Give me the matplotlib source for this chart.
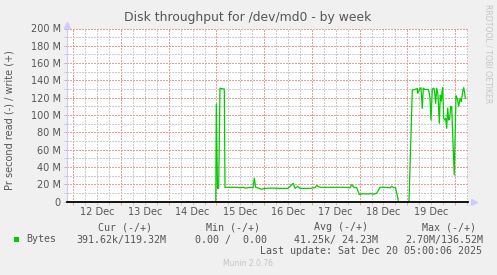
import numpy as np
import matplotlib
matplotlib.use("Agg")
import matplotlib.pyplot as plt
from matplotlib.ticker import MultipleLocator, FuncFormatter
import matplotlib.transforms as mtransforms

# write (+) throughput, MB/s, x = days since 12 Dec 00:00 (nan = no data)
days = [2.985, 2.996, 3.021, 3.046, 3.073, 3.164, 3.178, 3.451, 3.493, 3.556,
        3.618, 3.702, 3.765, 3.792, 3.822, 3.870, 3.933, 4.017, 4.164, 4.331,
        4.499, 4.610, 4.646, 4.702, 4.751, 4.855, 4.960, 5.065, 5.101, 5.170,
        5.442, 5.694, 5.799, 5.834, 5.883, 5.939, 5.994, 6.071, 6.149, 6.218,
        6.302, 6.358, 6.428, 6.532, 6.637, 6.673, 6.721, 6.753, 6.811, 6.900,
        7.015, 7.036, 7.105, 7.161, 7.209, 7.218, 7.266, 7.287, 7.314, 7.335,
        7.371, 7.440, 7.461, 7.476, 7.497, 7.524, 7.545, 7.566, 7.595, 7.616,
        7.644, 7.671, 7.692, 7.713, 7.727, 7.742, 7.763, 7.784, 7.805, 7.826,
        7.847, 7.868, 7.889, 7.910, 7.931, 7.952, 7.985, 8.021, 8.048, 8.078,
        8.105, 8.132, 8.161, 8.182, 8.203, 8.216]
write_mb = [0, 112.7, 15.2, 15.2, 130.9, 130.0, 16.4, 16.4, 15.8, 16.4,
            15.5, 16.4, 15.8, 26.8, 16.4, 15.8, 14.1, 15.2, 15.5, 15.2,
            15.2, 21.0, 15.2, 17.5, 15.2, 15.2, 15.2, 16.0, 18.5, 16.4,
            16.4, 16.4, 15.8, 19.5, 16.4, 16.0, 8.0, 9.0, 8.7, 9.0,
            8.5, 9.5, 16.5, 16.4, 15.8, 17.5, 16.0, 16.0, 1.5, np.nan,
            0, 0.5, 128.9, 129.5, 130.6, 125.0, 130.6, 131.5, 107.7, 131.0,
            129.5, 129.5, 125.0, 119.0, 94.2, 129.5, 131.0, 130.0, 113.5, 131.0,
            123.0, 90.4, 123.0, 116.0, 127.0, 131.5, 96.2, 94.2, 96.2, 84.6,
            108.0, 94.2, 96.2, 110.0, 109.0, 76.9, 30.6, 122.3, 119.3, 110.0,
            119.3, 115.5, 127.0, 131.6, 125.0, 119.3]

day_labels = ["12 Dec", "13 Dec", "14 Dec", "15 Dec", "16 Dec", "17 Dec", "18 Dec", "19 Dec"]

legend_head = ["Cur (-/+)", "Min (-/+)", "Avg (-/+)", "Max (-/+)"]
legend_vals = ["391.62k/119.32M", "0.00 /  0.00", "41.25k/ 24.23M", "2.70M/136.52M"]

W, H = 497, 275
bg = "#F0F0F0"
txt = "#555555"

fig = plt.figure(figsize=(W / 100, H / 100), dpi=100, facecolor=bg)
ax = fig.add_axes([67 / W, 1 - 201.5 / H, (467.5 - 67) / W, (201.5 - 28.5) / H])
ax.set_facecolor("white")

ax.set_xlim(-0.134, 8.262)
ax.set_ylim(0, 200)

ax.xaxis.set_major_locator(MultipleLocator(1))
ax.xaxis.set_minor_locator(MultipleLocator(0.25))
ax.yaxis.set_major_locator(MultipleLocator(20))
ax.yaxis.set_minor_locator(MultipleLocator(10))
ax.yaxis.set_major_formatter(FuncFormatter(lambda v, p: "0" if v == 0 else f"{v:.0f} M"))
ax.xaxis.set_major_formatter(FuncFormatter(lambda v, p: ""))

ax.grid(which="minor", color="#CCCCCC", linestyle=(0, (1, 1)), linewidth=1.0, antialiased=False)
ax.grid(which="major", color="#F29A9A", linestyle=(0, (1, 1)), linewidth=1.0, antialiased=False)
ax.set_axisbelow(True)

ax.tick_params(which="both", direction="out", length=2.5, width=0.7, labelsize=7, labelcolor=txt, pad=2)
ax.tick_params(which="major", color="#F0A0A0")
ax.tick_params(which="minor", color="#C8C8C8")

for s in ["top", "right", "bottom"]:
    ax.spines[s].set_visible(False)
ax.spines["left"].set_color("#CCCCEE")
ax.spines["left"].set_linewidth(0.8)

ax.plot(days, write_mb, color="#00CC00", linewidth=0.9, zorder=3)
ax.axhline(0, color="black", linewidth=1.3, zorder=4, clip_on=False)

# arrows at axis ends
ax.plot([0], [1.02], marker="^", markersize=4, color="#CCCCFF", transform=ax.transAxes, clip_on=False)
ax.plot([1.015], [0], marker=">", markersize=4, color="#CCCCFF", transform=ax.transAxes, clip_on=False)

# day labels centred at noon
tr = mtransforms.blended_transform_factory(ax.transData, fig.transFigure)
for i, lab in enumerate(day_labels):
    ax.text(i + 0.5, 1 - 212 / H, lab, transform=tr, ha="center", va="center", fontsize=7, color=txt)

fig.text(248 / W, 1 - 17 / H, "Disk throughput for /dev/md0 - by week", ha="center", va="center",
         fontsize=8.9, color=txt)
fig.text(10 / W, 1 - 120 / H, "Pr second read (-) / write (+)", rotation=90, ha="center", va="center",
         fontsize=7, color=txt)
fig.text(488 / W, 1 - 54 / H, "RRDTOOL / TOBI OETIKER", rotation=270, ha="center", va="center",
         fontsize=5.6, color="#C4C4C4")

# legend block
mono = "DejaVu Sans Mono"
fig.patches.append(plt.Rectangle((14 / W, 1 - 242 / H), 5 / W, 5 / H, transform=fig.transFigure,
                                 facecolor="#00CC00", edgecolor="none"))
fig.text(26 / W, 1 - 239.5 / H, "Bytes", family=mono, fontsize=7.2, color=txt, va="center")
head_right = [151.7, 260, 368.3, 476]
val_right = [166.7, 266.7, 377.7, 483.3]
for h, v, hr, vr in zip(legend_head, legend_vals, head_right, val_right):
    fig.text(hr / W, 1 - 227.5 / H, h, family=mono, fontsize=7.2, color=txt, ha="right", va="center")
    fig.text(vr / W, 1 - 239.5 / H, v, family=mono, fontsize=7.2, color=txt, ha="right", va="center")
fig.text(482.5 / W, 1 - 251 / H, "Last update: Sat Dec 20 05:00:06 2025", family=mono, fontsize=7.2,
         color=txt, ha="right", va="center")
fig.text(248 / W, 1 - 264 / H, "Munin 2.0.76", fontsize=5.5, color="#C4C4C4", ha="center", va="center")

fig.savefig("out.png", dpi=100, facecolor=bg)
